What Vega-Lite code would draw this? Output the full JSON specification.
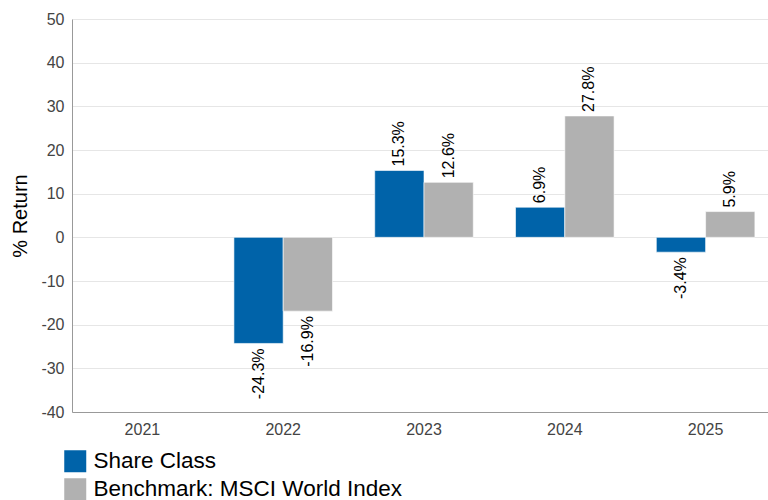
{
  "$schema": "https://vega.github.io/schema/vega-lite/v6.json",
  "autosize": {"type": "none"},
  "width": 696,
  "height": 393,
  "padding": {"left": 72, "top": 19, "right": 0, "bottom": 88},
  "config": {
    "font": "Liberation Sans",
    "view": {"stroke": null}
  },
  "data": {
    "values": [
      {"year": "2022", "series": "Share Class", "value": -24.3, "label": "-24.3%"},
      {"year": "2022", "series": "Benchmark: MSCI World Index", "value": -16.9, "label": "-16.9%"},
      {"year": "2023", "series": "Share Class", "value": 15.3, "label": "15.3%"},
      {"year": "2023", "series": "Benchmark: MSCI World Index", "value": 12.6, "label": "12.6%"},
      {"year": "2024", "series": "Share Class", "value": 6.9, "label": "6.9%"},
      {"year": "2024", "series": "Benchmark: MSCI World Index", "value": 27.8, "label": "27.8%"},
      {"year": "2025", "series": "Share Class", "value": -3.4, "label": "-3.4%"},
      {"year": "2025", "series": "Benchmark: MSCI World Index", "value": 5.9, "label": "5.9%"}
    ]
  },
  "encoding": {
    "x": {
      "field": "year",
      "type": "nominal",
      "scale": {"domain": ["2021", "2022", "2023", "2024", "2025"], "range": [0, 704], "paddingInner": 0.3, "paddingOuter": 0.15},
      "axis": {"title": null, "labelAngle": 0, "ticks": false, "labelFontSize": 16, "labelColor": "#444444", "labelPadding": 9, "domainColor": "#999999", "grid": false}
    },
    "xOffset": {"field": "series", "type": "nominal", "scale": {"domain": ["Share Class", "Benchmark: MSCI World Index"]}},
    "y": {
      "field": "value",
      "type": "quantitative",
      "scale": {"domain": [-40, 50], "nice": false, "zero": false},
      "axis": {"title": "% Return", "titleFontSize": 20, "titleFontWeight": "normal", "titleColor": "#000000", "titlePadding": 10, "values": [-40, -30, -20, -10, 0, 10, 20, 30, 40, 50], "labelExpr": "replace(datum.label, '\u2212', '-')", "ticks": false, "labelFontSize": 16, "labelColor": "#444444", "labelPadding": 8, "domainColor": "#999999", "gridColor": "#e6e6e6"}
    }
  },
  "layer": [
    {
      "mark": {"type": "bar", "stroke": "#ffffff", "strokeWidth": 1, "strokeOpacity": 0.6},
      "encoding": {
        "color": {
          "field": "series",
          "type": "nominal",
          "scale": {"domain": ["Share Class", "Benchmark: MSCI World Index"], "range": ["#0063a9", "#b1b1b1"]},
          "legend": {"title": null, "orient": "none", "legendX": -8, "legendY": 431, "direction": "vertical", "symbolType": "square", "symbolSize": 484, "symbolStrokeWidth": 0, "labelFontSize": 22.5, "labelColor": "#000000", "labelOffset": 7, "rowPadding": 5, "padding": 0, "labelLimit": 500}
        }
      }
    },
    {
      "transform": [{"filter": "datum.value >= 0"}],
      "mark": {"type": "text", "angle": 270, "align": "left", "baseline": "middle", "dx": 4, "fontSize": 16, "color": "#000000"},
      "encoding": {"text": {"field": "label", "type": "nominal"}}
    },
    {
      "transform": [{"filter": "datum.value < 0"}],
      "mark": {"type": "text", "angle": 270, "align": "right", "baseline": "middle", "dx": -5, "fontSize": 16, "color": "#000000"},
      "encoding": {"text": {"field": "label", "type": "nominal"}}
    }
  ]
}
